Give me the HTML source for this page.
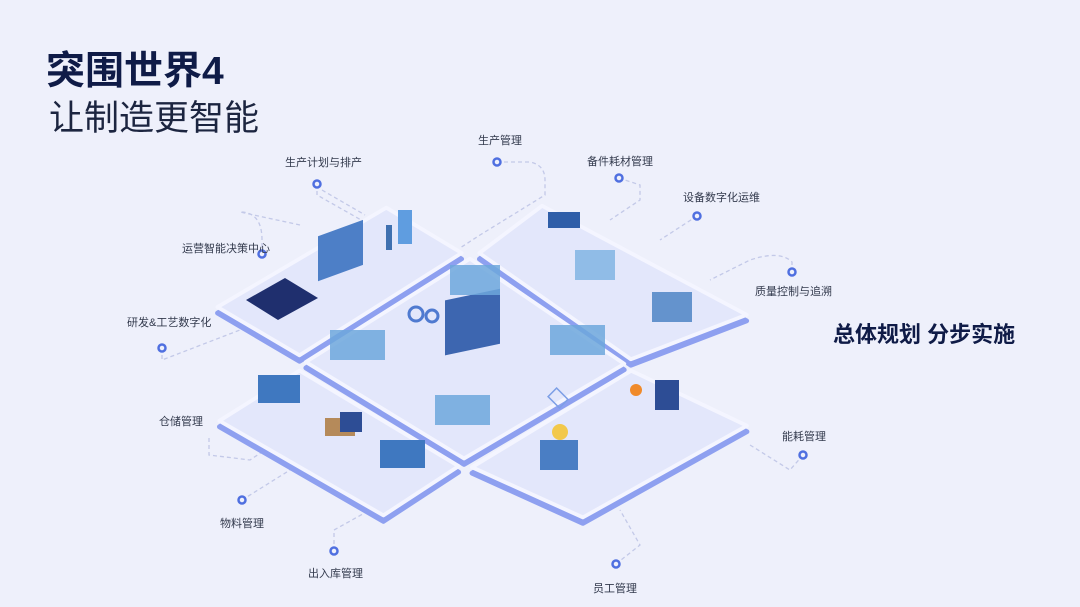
<!DOCTYPE html>
<html><head><meta charset="utf-8"><style>
html,body{margin:0;padding:0;background:#eef0fb;}
svg{display:block}
text{font-family:"Liberation Sans","Noto Sans CJK SC",sans-serif;}
</style></head><body>
<svg width="1080" height="607" viewBox="0 0 1080 607" xmlns="http://www.w3.org/2000/svg">
<rect width="1080" height="607" fill="#eef0fb"/>
<text x="46" y="84" font-size="39" font-weight="bold" fill="#0f1b47">突围世界4</text>
<text x="49" y="130" font-size="35" fill="#1c2540">让制造更智能</text>
<text x="833" y="342" font-size="22" font-weight="bold" fill="#0f1b47">总体规划  分步实施</text>

<!-- connectors -->
<g fill="none" stroke="#c3c9e8" stroke-width="1.3" stroke-dasharray="4 3">
<path d="M317 184 L317 195 L370 225"/><path d="M322 190 L365 215"/>
<path d="M497 162 L530 162 Q545 165 545 180 L545 195 L480 235 L460 248"/>
<path d="M619 178 L640 185 L640 200 L610 220"/>
<path d="M697 216 L660 240"/>
<path d="M262 254 L262 240 Q262 212 240 212 L300 225"/>
<path d="M792 272 L792 262 Q780 250 750 260 L710 280"/>
<path d="M162 348 L162 360 L240 330"/>
<path d="M209 438 L209 455 L250 460 L280 440"/>
<path d="M803 455 L790 470 L750 445"/>
<path d="M242 500 L290 470"/>
<path d="M334 551 L334 530 L370 510"/>
<path d="M616 564 L640 545 L620 510"/>
</g>

<defs>
<g id="p1"><polygon points="213,308 388,205 466,252 298,358" transform="translate(341,281) scale(.965) translate(-341,-281)"/></g>
<g id="p2"><polygon points="475,252 540,203 752,316 632,362" transform="translate(600,283) scale(.965) translate(-600,-283)"/></g>
<g id="p3"><polygon points="300,362 470,255 630,364 464,462" transform="translate(466,361) scale(.965) translate(-466,-361)"/></g>
<g id="p4"><polygon points="215,420 298,368 463,467 385,518" transform="translate(340,443) scale(.965) translate(-340,-443)"/></g>
<g id="p5"><polygon points="632,368 752,425 582,520 467,468" transform="translate(608,445) scale(.965) translate(-608,-445)"/></g>
</defs>
<g stroke-linejoin="round">
<g transform="translate(0,6)" fill="#8ea0f0" stroke="#8ea0f0" stroke-width="5">
<use href="#p1"/><use href="#p2"/><use href="#p3"/><use href="#p4"/><use href="#p5"/>
</g>
<g fill="#e3e7fb" stroke="#f4f5ff" stroke-width="4">
<use href="#p1"/><use href="#p2"/><use href="#p3"/><use href="#p4"/><use href="#p5"/>
</g>
</g>

<!-- illustration blobs -->
<g>
<polygon points="246,300 285,278 318,298 278,320" fill="#1f2f6e"/>
<rect x="318" y="232" width="45" height="45" fill="#4d7fc7" transform="skewY(-20) translate(0,120)"/>
<rect x="398" y="210" width="14" height="34" fill="#5f9de0"/>
<rect x="386" y="225" width="6" height="25" fill="#3f70b0"/>
<rect x="548" y="212" width="32" height="16" fill="#2f5ea8"/>
<rect x="575" y="250" width="40" height="30" fill="#7ab2e2" opacity=".8"/>
<rect x="652" y="292" width="40" height="30" fill="#4d84c4" opacity=".85"/>
<rect x="445" y="300" width="55" height="55" fill="#3d66b0" transform="skewY(-12) translate(0,95)"/>
<rect x="450" y="265" width="50" height="30" fill="#6da7dc" opacity=".85"/>
<rect x="330" y="330" width="55" height="30" fill="#6da7dc" opacity=".85"/>
<rect x="550" y="325" width="55" height="30" fill="#6da7dc" opacity=".85"/>
<rect x="435" y="395" width="55" height="30" fill="#6da7dc" opacity=".85"/>
<rect x="258" y="375" width="42" height="28" fill="#3f78c0"/>
<rect x="325" y="418" width="30" height="18" fill="#b58a5a"/>
<rect x="340" y="412" width="22" height="20" fill="#2d4d95"/>
<rect x="380" y="440" width="45" height="28" fill="#3f78c0"/>
<rect x="655" y="380" width="24" height="30" fill="#2d4d95"/>
<rect x="540" y="440" width="38" height="30" fill="#4a7ec4"/>
<circle cx="560" cy="432" r="8" fill="#f2c84b"/>
<circle cx="636" cy="390" r="6" fill="#f08a2a"/>
<rect x="550" y="392" width="16" height="12" fill="none" stroke="#7d9fe6" stroke-width="1.5" transform="rotate(45 558 398)"/>
<circle cx="416" cy="314" r="7" fill="none" stroke="#4f7ad0" stroke-width="3"/>
<circle cx="432" cy="316" r="6" fill="none" stroke="#4f7ad0" stroke-width="3"/>
</g>

<g fill="#eef0fb" stroke="#4f6fe0" stroke-width="2.5">
<circle cx="317" cy="184" r="3.5"/><circle cx="497" cy="162" r="3.5"/>
<circle cx="619" cy="178" r="3.5"/><circle cx="697" cy="216" r="3.5"/>
<circle cx="262" cy="254" r="3.5"/><circle cx="792" cy="272" r="3.5"/>
<circle cx="162" cy="348" r="3.5"/><circle cx="242" cy="500" r="3.5"/>
<circle cx="803" cy="455" r="3.5"/><circle cx="334" cy="551" r="3.5"/>
<circle cx="616" cy="564" r="3.5"/>
</g>

<g font-size="11" fill="#333a4d">
<text x="285" y="166">生产计划与排产</text>
<text x="478" y="144">生产管理</text>
<text x="587" y="165">备件耗材管理</text>
<text x="683" y="201">设备数字化运维</text>
<text x="182" y="252">运营智能决策中心</text>
<text x="755" y="295">质量控制与追溯</text>
<text x="127" y="326">研发&amp;工艺数字化</text>
<text x="159" y="425">仓储管理</text>
<text x="782" y="440">能耗管理</text>
<text x="220" y="527">物料管理</text>
<text x="308" y="577">出入库管理</text>
<text x="593" y="592">员工管理</text>
</g>
</svg>
</body></html>
